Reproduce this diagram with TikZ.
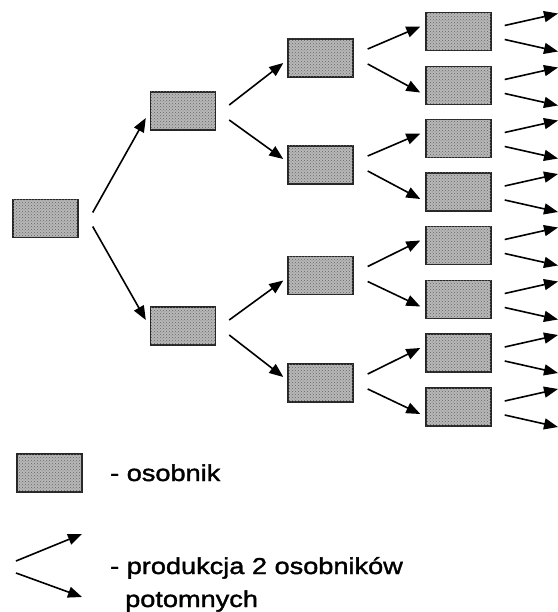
\documentclass[tikz,border=0pt]{standalone}
\usepackage{fontspec}
\newfontfamily\legendfont[FakeStretch=1.18,FakeBold=1.6]{Liberation Sans}
\usetikzlibrary{arrows.meta,patterns}

\begin{document}
\begin{tikzpicture}[x=1pt,y=-1pt,
  box/.style={draw=black!85, line width=1.4pt, fill=black!28,
    minimum width=65pt, minimum height=38pt, inner sep=0pt,
    postaction={pattern=crosshatch dots, pattern color=black!60}},
  arr/.style={line width=1.6pt, -{Triangle[length=14pt,width=11pt]}},
  legend/.style={anchor=base west, inner sep=0pt,
    font=\legendfont\fontsize{23}{28}\selectfont}]

\useasboundingbox (0,0) rectangle (557,612);

% generations of individuals
\node[box] (r)  at (45.5,218.5) {};
\node[box] (a1) at (183,111) {};
\node[box] (a2) at (183,326) {};
\node[box] (b1) at (320.5,58) {};
\node[box] (b2) at (320.5,165) {};
\node[box] (b3) at (320.5,275.5) {};
\node[box] (b4) at (320.5,383) {};
\foreach \i/\y in {1/31.5,2/85.5,3/138.5,4/192,5/245.5,6/299.5,7/353,8/407}
  \node[box] (c\i) at (458.5,\y) {};

% offspring arrows, generation 0 -> 1
\draw[arr] ([shift={(14,-6)}]r.east) -- ([shift={(-4,7)}]a1.west);
\draw[arr] ([shift={(14,8)}]r.east)  -- ([shift={(-4,-6)}]a2.west);

% generation 1 -> 2
\foreach \p/\u/\d in {a1/b1/b2,a2/b3/b4}{
  \draw[arr] ([shift={(13,-6)}]\p.east) -- ([shift={(-4,5)}]\u.west);
  \draw[arr] ([shift={(13,9)}]\p.east)  -- ([shift={(-4,-6)}]\d.west);
}

% generation 2 -> 3
\foreach \p/\u/\d in {b1/c1/c2,b2/c3/c4,b3/c5/c6,b4/c7/c8}{
  \draw[arr] ([shift={(14,-9)}]\p.east) -- ([shift={(-5,-5)}]\u.west);
  \draw[arr] ([shift={(14,6)}]\p.east)  -- ([shift={(-5,7)}]\d.west);
}

% generation 3 -> next
\foreach \i/\y in {1/31.5,2/85.5,3/138.5,4/192,5/245.5,6/299.5,7/353,8/407}{
  \coordinate (u\i) at (558,\y-18);
  \coordinate (d\i) at (558,\y+20);
  \draw[arr] ([shift={(13,-6)}]c\i.east) -- (u\i);
  \draw[arr] ([shift={(13,8)}]c\i.east)  -- (d\i);
}

% legend
\node[box] (lg) at (49.5,473) {};
\node[legend] (t1) at (110,481) {- osobnik};

\coordinate (ls1) at (16,561);
\coordinate (le1) at (82,534);
\coordinate (ls2) at (16,573);
\coordinate (le2) at (82,597);
\draw[arr] (ls1) -- (le1);
\draw[arr] (ls2) -- (le2);
\node[legend] (t2) at (110,574) {- produkcja 2 osobników};
\node[legend] (t3) at (125,607) {potomnych};

\end{tikzpicture}
\end{document}
